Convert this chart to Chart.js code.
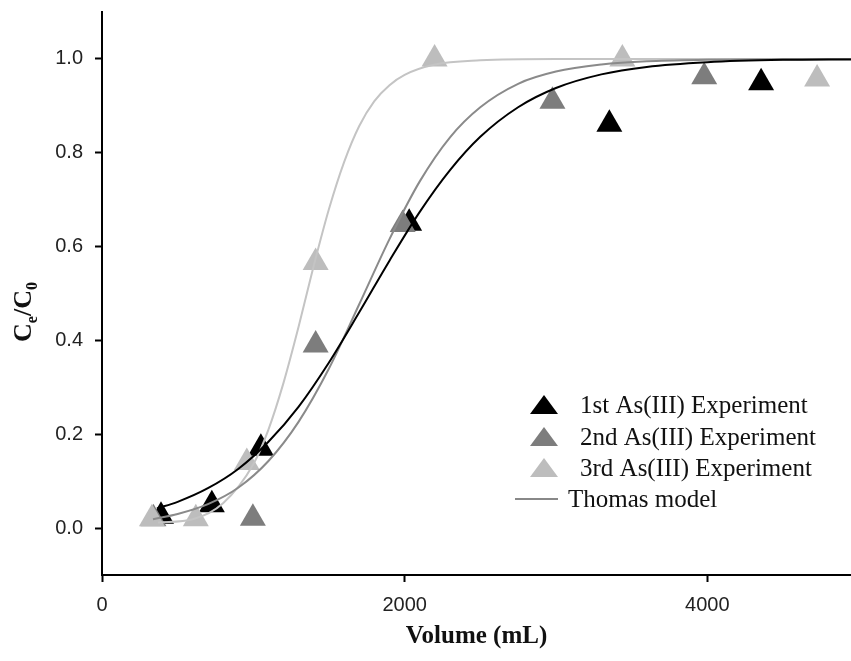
<!DOCTYPE html>
<html>
<head>
<meta charset="utf-8">
<script src="https://cdn.jsdelivr.net/npm/chart.js@4.4.0/dist/chart.umd.min.js"></script>
<style>
  body { margin: 0; background: #fff; }
  #wrap { width: 851px; height: 661px; position: relative; }
</style>
</head>
<body>
<div id="wrap"><canvas id="chart"></canvas></div>
<script>
// ---------- DATA ----------
var xTicks = [0, 2000, 4000];
var yTicks = [0.0, 0.2, 0.4, 0.6, 0.8, 1.0];

var seriesNames = ["1st As(III) Experiment", "2nd As(III) Experiment", "3rd As(III) Experiment"];
var modelName = "Thomas model";

// measured points (volume mL, Ce/C0)
var exp1X = [390, 726, 1050, 2030, 3353, 4356];
var exp1Y = [0.025, 0.05, 0.17, 0.65, 0.861, 0.949];
var exp2X = [340, 997, 1412, 1987, 2977, 3980];
var exp2Y = [0.02, 0.021, 0.39, 0.647, 0.91, 0.962];
var exp3X = [330, 620, 957, 1412, 2198, 3439, 4726];
var exp3Y = [0.02, 0.02, 0.14, 0.566, 1.0, 1.0, 0.957];

// Thomas model curves
var fit1X = [363, 500, 700, 900, 1100, 1300, 1500, 1700, 1900, 2100, 2300, 2500, 2750, 3000, 3300, 3600, 4000, 4500, 4950];
var fit1Y = [0.042, 0.056, 0.085, 0.126, 0.184, 0.259, 0.353, 0.46, 0.57, 0.674, 0.763, 0.834, 0.897, 0.938, 0.967, 0.983, 0.993, 0.998, 0.999];
var fit2X = [337, 500, 700, 900, 1100, 1300, 1500, 1700, 1900, 2100, 2300, 2500, 2750, 3000, 3300, 3600, 4000, 4950];
var fit2Y = [0.019, 0.03, 0.051, 0.086, 0.143, 0.227, 0.34, 0.477, 0.616, 0.739, 0.833, 0.897, 0.947, 0.973, 0.988, 0.995, 0.998, 1.0];
var fit3X = [370, 600, 800, 1000, 1100, 1200, 1300, 1400, 1500, 1600, 1700, 1800, 1900, 2000, 2200, 2500, 3000, 4950];
var fit3Y = [0.012, 0.019, 0.053, 0.136, 0.21, 0.31, 0.43, 0.56, 0.68, 0.78, 0.857, 0.91, 0.944, 0.966, 0.988, 0.997, 1.0, 1.0];

var markerColors = ["#000000", "#7d7d7d", "#bdbdbd"];
var lineColors = ["#000000", "#8a8a8a", "#c4c4c4"];

function pairs(xs, ys) {
  return xs.map(function (x, i) { return { x: x, y: ys[i] }; });
}

function pointSet(label, xs, ys, color, order) {
  return {
    label: label,
    data: pairs(xs, ys),
    showLine: false,
    pointStyle: "triangle",
    pointRadius: 15,
    pointHoverRadius: 15,
    pointBackgroundColor: color,
    pointBorderWidth: 0,
    backgroundColor: color,
    order: order
  };
}

function lineSet(xs, ys, color, order) {
  return {
    label: modelName,
    data: pairs(xs, ys),
    showLine: true,
    borderColor: color,
    borderWidth: 2,
    pointRadius: 0,
    cubicInterpolationMode: "monotone",
    fill: false,
    order: order
  };
}

// no extra label padding, the plot should reach the canvas edge
function noPadding(scale) {
  scale.paddingLeft = 0;
  scale.paddingRight = 0;
  scale.paddingTop = 0;
  scale.paddingBottom = 0;
}

// ---------- Y TITLE with subscripts ----------
var yTitlePlugin = {
  id: "yTitle",
  afterDraw: function (chart) {
    var ctx = chart.ctx;
    var big = "bold 26px 'Liberation Serif', 'Times New Roman', serif";
    var small = "bold 16px 'Liberation Serif', 'Times New Roman', serif";
    var parts = [["C", big, 0], ["e", small, 6], ["/C", big, 0], ["0", small, 6]];
    ctx.save();
    var total = 0;
    parts.forEach(function (p) { ctx.font = p[1]; total += ctx.measureText(p[0]).width; });
    ctx.translate(31, 312);
    ctx.rotate(-Math.PI / 2);
    ctx.fillStyle = "#111";
    ctx.textBaseline = "alphabetic";
    var x = -total / 2;
    parts.forEach(function (p) {
      ctx.font = p[1];
      ctx.fillText(p[0], x, p[2]);
      x += ctx.measureText(p[0]).width;
    });
    ctx.restore();
  }
};

// ---------- LEGEND inside plot ----------
var legendPlugin = {
  id: "innerLegend",
  afterDraw: function (chart) {
    var ctx = chart.ctx;
    var rowsY = [405, 437, 468, 499];
    ctx.save();
    ctx.font = "25px 'Liberation Serif', 'Times New Roman', serif";
    ctx.textBaseline = "middle";
    for (var i = 0; i < 3; i++) {
      var cx = 544, cy = rowsY[i];
      ctx.beginPath();
      ctx.moveTo(cx, cy - 10);
      ctx.lineTo(cx + 14, cy + 9);
      ctx.lineTo(cx - 14, cy + 9);
      ctx.closePath();
      ctx.fillStyle = markerColors[i];
      ctx.fill();
      ctx.fillStyle = "#111";
      ctx.fillText(seriesNames[i], 580, cy + 1);
    }
    ctx.strokeStyle = "#888";
    ctx.lineWidth = 2;
    ctx.beginPath();
    ctx.moveTo(515, rowsY[3]);
    ctx.lineTo(558, rowsY[3]);
    ctx.stroke();
    ctx.fillStyle = "#111";
    ctx.fillText(modelName, 568, rowsY[3] + 1);
    ctx.restore();
  }
};

var tickFont = { family: "'Liberation Sans', Arial, sans-serif", size: 20 };

new Chart(document.getElementById("chart"), {
  type: "scatter",
  data: {
    datasets: [
      lineSet(fit1X, fit1Y, lineColors[0], 1),
      lineSet(fit2X, fit2Y, lineColors[1], 2),
      lineSet(fit3X, fit3Y, lineColors[2], 3),
      pointSet(seriesNames[2], exp3X, exp3Y, markerColors[2], 4),
      pointSet(seriesNames[1], exp2X, exp2Y, markerColors[1], 5),
      pointSet(seriesNames[0], exp1X, exp1Y, markerColors[0], 6)
    ]
  },
  options: {
    responsive: true,
    maintainAspectRatio: false,
    animation: false,
    layout: { autoPadding: false, padding: { top: 12, right: 0, left: 0, bottom: 0 } },
    plugins: {
      legend: { display: false },
      tooltip: { enabled: false }
    },
    scales: {
      x: {
        type: "linear",
        min: 0,
        max: 4950,
        afterBuildTicks: function (scale) {
          scale.ticks = xTicks.map(function (v) { return { value: v }; });
        },
        afterFit: function (scale) { scale.height = 86; noPadding(scale); },
        grid: { drawOnChartArea: false, drawTicks: true, tickLength: 7, tickWidth: 2, tickColor: "#000" },
        border: { display: true, color: "#000", width: 2 },
        ticks: {
          font: tickFont,
          color: "#222",
          padding: 11,
          maxRotation: 0,
          callback: function (v) { return String(v); }
        },
        title: {
          display: true,
          text: "Volume (mL)",
          color: "#111",
          font: { family: "'Liberation Serif', 'Times New Roman', serif", size: 25, weight: "bold" },
          padding: { top: 0, bottom: 9 }
        }
      },
      y: {
        min: -0.1,
        max: 1.1,
        afterBuildTicks: function (scale) {
          scale.ticks = yTicks.map(function (v) { return { value: v }; });
        },
        afterFit: function (scale) { scale.width = 102; noPadding(scale); },
        grid: { drawOnChartArea: false, drawTicks: true, tickLength: 7, tickWidth: 2, tickColor: "#000" },
        border: { display: true, color: "#000", width: 2 },
        ticks: {
          font: tickFont,
          color: "#222",
          padding: 12,
          callback: function (v) { return Number(v).toFixed(1); }
        }
      }
    }
  },
  plugins: [yTitlePlugin, legendPlugin]
});
</script>
</body>
</html>
